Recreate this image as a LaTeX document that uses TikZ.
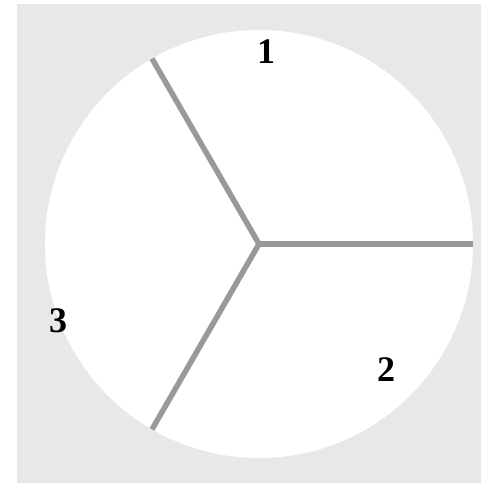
\documentclass[tikz,border=0pt]{standalone}
\usepackage{fontspec}
\setmainfont{Liberation Serif}
\usetikzlibrary{positioning}
\definecolor{bgrey}{HTML}{E8E8E8}
\definecolor{cgrey}{HTML}{999999}
\tikzset{
  pie_disc/.style = {circle, fill=white, inner sep=0pt, outer sep=0pt, minimum size=428pt},
  pie_cut/.style = {draw=cgrey, line width=5.5pt},
  pie_lbl/.style = {inner sep=0pt, font=\fontsize{36}{40}\selectfont\bfseries}
}
\begin{document}
\begin{tikzpicture}[x=1pt,y=1pt]
\useasboundingbox (0,0) rectangle (481,483);
\fill[bgrey] (17,0) rectangle (481,479);

\node [pie_disc] (pie) at (259,239) {};
\draw [pie_cut] (pie.center) -- (pie.0);
\draw [pie_cut] (pie.center) -- (pie.120);
\draw [pie_cut] (pie.center) -- (pie.240);

\node [pie_lbl] (one) at (266,431) {1};
\node [pie_lbl] (two) at (386,113) {2};
\node [pie_lbl] (three) at (58,162) {3};
\end{tikzpicture}
\end{document}
